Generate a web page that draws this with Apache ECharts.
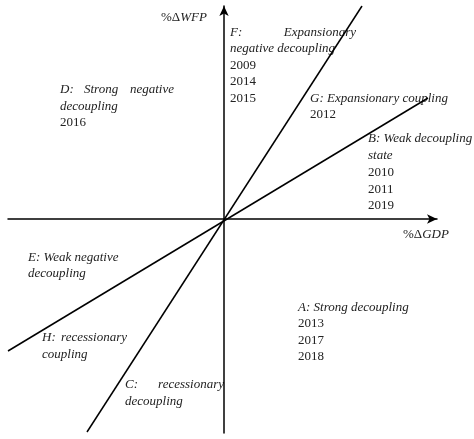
<!DOCTYPE html>
<html><head><meta charset="utf-8">
<script src="https://cdn.jsdelivr.net/npm/echarts@6/dist/echarts.min.js"></script>
<style>html,body{margin:0;padding:0;background:#fff}#c{width:474px;height:439px}</style>
</head><body><div id="c"></div>
<script>
// Boundary lines through origin (units: %ΔGDP, %ΔWFP, arbitrary scale)
const steepLine = [[-137, -213], [138, 213]];
const shallowLine = [[-216, -132], [204, 121]];
const xRange = [-216, 213];
const yRange = [-214, 213];
const axisNames = ['%Δ', 'GDP', '%Δ', 'WFP'];
const yearsF = ['2009', '2014', '2015'];
const yearsD = ['2016'];
const yearsG = ['2012'];
const yearsB = ['2010', '2011', '2019'];
const yearsA = ['2013', '2017', '2018'];

const serif = '"Liberation Serif", "DejaVu Serif", serif';
const FS = 13, LH = 16.5;
const it = (text, x, y, align) => ({type:'text', x, y,
  style:{text, font:'italic ' + FS + 'px ' + serif, fill:'#222', textAlign: align||'left', textVerticalAlign:'middle'}});
const up = (text, x, y, align) => ({type:'text', x, y,
  style:{text, font:FS + 'px ' + serif, fill:'#222', textAlign: align||'left', textVerticalAlign:'middle'}});
const years = (arr, x, y0) => arr.map((t, i) => up(t, x, y0 + i*LH));
const axName = (a, b, x, y) => ({type:'text', x, y, style:{rich:{a:{font:FS+'px '+serif, fill:'#222'}, b:{font:'italic '+FS+'px '+serif, fill:'#222'}},
  text:'{a|' + a + '}{b|' + b + '}', textVerticalAlign:'middle'}});

const g = [];
g.push(axName(axisNames[2], axisNames[3], 161, 18));
g.push(axName(axisNames[0], axisNames[1], 403, 235));
// F
g.push(it('F:', 230, 33), it('Expansionary', 356, 33, 'right'), it('negative decoupling', 230, 49));
g.push(...years(yearsF, 230, 65.5));
// D
g.push(it('D:', 60, 90), it('Strong', 84, 90), it('negative', 174, 90, 'right'), it('decoupling', 60, 107));
g.push(...years(yearsD, 60, 123));
// G
g.push(it('G: Expansionary coupling', 310, 99));
g.push(...years(yearsG, 310, 115));
// B
g.push(it('B: Weak decoupling', 368, 139), it('state', 368, 156));
g.push(...years(yearsB, 368, 173));
// E
g.push(it('E: Weak negative', 28, 258), it('decoupling', 28, 274));
// H
g.push(it('H:', 42, 338), it('recessionary', 127, 338, 'right'), it('coupling', 42, 355));
// C
g.push(it('C:', 125, 385), it('recessionary', 224, 385, 'right'), it('decoupling', 125, 402));
// A
g.push(it('A: Strong decoupling', 298, 308));
g.push(...years(yearsA, 298, 324));

const chart = echarts.init(document.getElementById('c'));
const axisCommon = {
  type:'value', axisTick:{show:false}, axisLabel:{show:false}, splitLine:{show:false},
  axisLine:{onZero:true, lineStyle:{color:'#000', width:1.5}, symbol:['none','arrow'], symbolSize:[7,10]}
};
chart.setOption({
  animation:false,
  grid:{left:8, right:37, top:6, bottom:6, containLabel:false},
  xAxis:Object.assign({}, axisCommon, {min:xRange[0], max:xRange[1]}),
  yAxis:Object.assign({}, axisCommon, {min:yRange[0], max:yRange[1]}),
  series:[
    {type:'line', data:steepLine, symbol:'none', lineStyle:{color:'#000', width:1.5}},
    {type:'line', data:shallowLine, symbol:'none', lineStyle:{color:'#000', width:1.5}}
  ],
  graphic:g
});
</script></body></html>
